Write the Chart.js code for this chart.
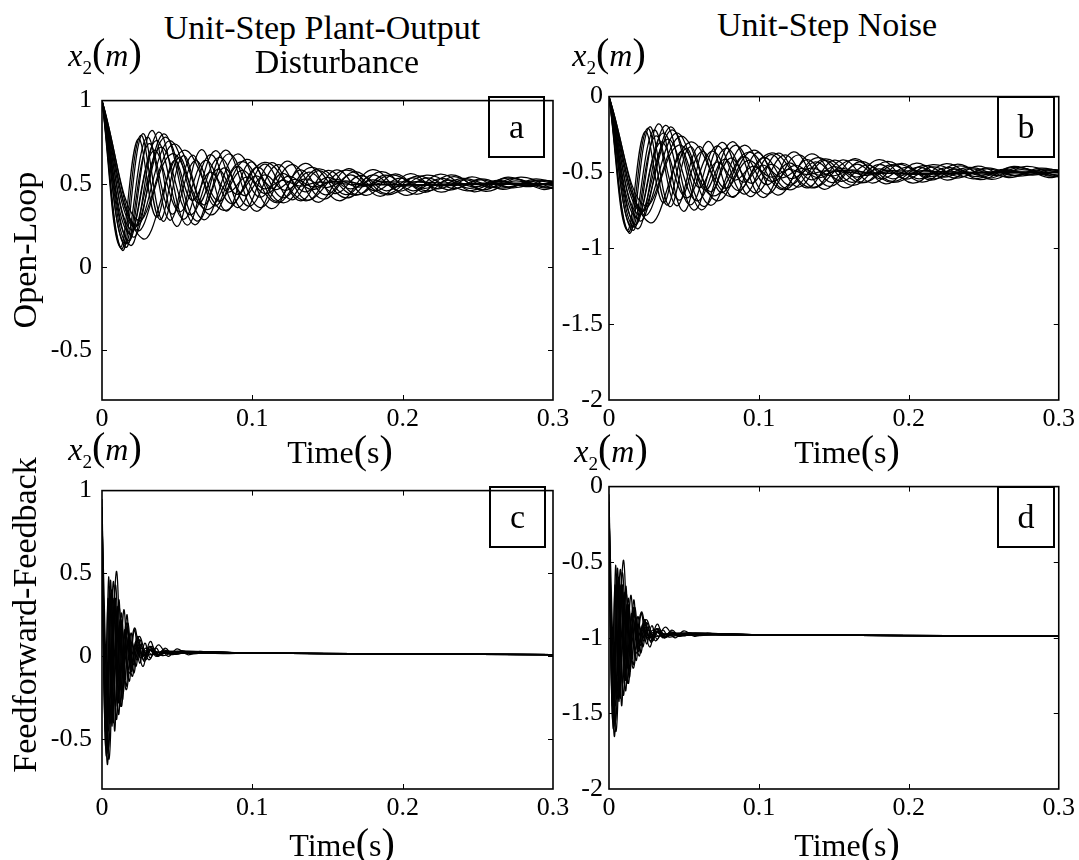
<!DOCTYPE html>
<html><head><meta charset="utf-8">
<script src="https://cdn.jsdelivr.net/npm/chart.js@4.4.1/dist/chart.umd.min.js"></script>
<style>
html,body{margin:0;padding:0;background:#fff;}
#wrap{position:relative;width:1079px;height:860px;overflow:hidden;background:#fff;font-family:'Liberation Serif','Times New Roman',serif;color:#000;}
canvas{position:absolute;}
.t{position:absolute;white-space:nowrap;transform:translate(-50%,-50%);line-height:1;}
.r{position:absolute;white-space:nowrap;transform:translate(-50%,-50%) rotate(-90deg);line-height:1;}
.box{position:absolute;border:2px solid #000;box-sizing:border-box;display:flex;align-items:center;justify-content:center;font-size:34px;line-height:1;}
.p{font-size:1.25em;}
</style></head>
<body><div id="wrap">
<canvas id="ca" width="575" height="375" style="left:0;top:75px"></canvas>
<canvas id="cb" width="524" height="375" style="left:555px;top:75px"></canvas>
<canvas id="cc" width="575" height="375" style="left:0;top:465px"></canvas>
<canvas id="cd" width="524" height="375" style="left:555px;top:465px"></canvas>

<div class="t" style="left:322px;top:28px;font-size:34px">Unit-Step Plant-Output</div>
<div class="t" style="left:337px;top:62px;font-size:34px">Disturbance</div>
<div class="t" style="left:827px;top:25px;font-size:34px">Unit-Step Noise</div>

<div class="t" style="left:105px;top:55px;font-size:32px"><i>x</i><sub style="font-size:0.6em">2</sub><span class="p">(</span><i>m</i><span class="p">)</span></div>
<div class="t" style="left:609px;top:55px;font-size:32px"><i>x</i><sub style="font-size:0.6em">2</sub><span class="p">(</span><i>m</i><span class="p">)</span></div>
<div class="t" style="left:105px;top:449px;font-size:32px"><i>x</i><sub style="font-size:0.6em">2</sub><span class="p">(</span><i>m</i><span class="p">)</span></div>
<div class="t" style="left:611px;top:451px;font-size:32px"><i>x</i><sub style="font-size:0.6em">2</sub><span class="p">(</span><i>m</i><span class="p">)</span></div>

<div class="t" style="left:340px;top:450px;font-size:32px">Time<span class="p">(</span>s<span class="p">)</span></div>
<div class="t" style="left:847px;top:450px;font-size:32px">Time<span class="p">(</span>s<span class="p">)</span></div>
<div class="t" style="left:342px;top:843px;font-size:32px">Time<span class="p">(</span>s<span class="p">)</span></div>
<div class="t" style="left:847px;top:843px;font-size:32px">Time<span class="p">(</span>s<span class="p">)</span></div>

<div class="r" style="left:25px;top:250px;font-size:34px">Open-Loop</div>
<div class="r" style="left:25px;top:615px;font-size:34px">Feedforward-Feedback</div>

<div class="box" style="left:488px;top:96px;width:57px;height:62px">a</div>
<div class="box" style="left:997px;top:96px;width:58px;height:62px">b</div>
<div class="box" style="left:489px;top:486px;width:57px;height:62px">c</div>
<div class="box" style="left:997px;top:486px;width:58px;height:62px">d</div>
</div>
<script>
// ---- tick values / labels ----
const xTickValues = [0, 0.1, 0.2, 0.3];
const xTickLabels = ['0', '0.1', '0.2', '0.3'];
const yTicksPos = [-0.5, 0, 0.5, 1];
const yLabelsPos = ['-0.5', '0', '0.5', '1'];
const yTicksNeg = [-2, -1.5, -1, -0.5, 0];
const yLabelsNeg = ['-2', '-1.5', '-1', '-0.5', '0'];

// ---- (a) Open-loop, unit-step plant-output disturbance: [time, x2] ----
const olDist1 = [[0,1],[0.012,0.12],[0.024,0.77],[0.036,0.30],[0.048,0.64],[0.06,0.40],[0.072,0.57],[0.084,0.45],[0.096,0.54],[0.108,0.47],[0.12,0.52],[0.132,0.486],[0.144,0.51],[0.17,0.495],[0.3,0.5]];
const olDist2 = [[0,1],[0.0135,0.10],[0.027,0.80],[0.0405,0.275],[0.054,0.669],[0.0675,0.373],[0.081,0.595],[0.0945,0.429],[0.108,0.553],[0.1215,0.46],[0.135,0.53],[0.1485,0.477],[0.162,0.517],[0.1755,0.487],[0.189,0.51],[0.25,0.5],[0.3,0.5]];
const olDist3 = [[0,1],[0.015,0.14],[0.03,0.78],[0.045,0.281],[0.06,0.671],[0.075,0.367],[0.09,0.604],[0.105,0.419],[0.12,0.563],[0.135,0.451],[0.15,0.538],[0.165,0.47],[0.18,0.523],[0.195,0.482],[0.21,0.514],[0.225,0.489],[0.26,0.505],[0.3,0.5]];
const olDist4 = [[0,1],[0.0165,0.14],[0.033,0.82],[0.0495,0.244],[0.066,0.705],[0.0825,0.336],[0.099,0.631],[0.1155,0.395],[0.132,0.584],[0.1485,0.433],[0.165,0.554],[0.1815,0.457],[0.198,0.534],[0.2145,0.473],[0.231,0.522],[0.2475,0.482],[0.264,0.514],[0.2805,0.489],[0.3,0.5]];
const olDist5 = [[0,1],[0.018,0.20],[0.036,0.76],[0.054,0.287],[0.072,0.675],[0.09,0.357],[0.108,0.618],[0.126,0.404],[0.144,0.579],[0.162,0.435],[0.18,0.553],[0.198,0.456],[0.216,0.536],[0.234,0.471],[0.252,0.524],[0.27,0.48],[0.288,0.516],[0.3,0.505]];
const olDist6 = [[0,1],[0.0195,0.22],[0.039,0.72],[0.0585,0.313],[0.078,0.659],[0.0975,0.365],[0.117,0.615],[0.1365,0.402],[0.156,0.583],[0.1755,0.43],[0.195,0.56],[0.2145,0.449],[0.234,0.543],[0.2535,0.463],[0.273,0.531],[0.2925,0.477],[0.3,0.48]];
const olDist7 = [[0,1],[0.021,0.24],[0.042,0.78],[0.063,0.276],[0.084,0.679],[0.105,0.357],[0.126,0.615],[0.147,0.408],[0.168,0.573],[0.189,0.441],[0.21,0.547],[0.231,0.462],[0.252,0.53],[0.273,0.476],[0.294,0.519],[0.3,0.515]];
const olDist8 = [[0,1],[0.0225,0.25],[0.045,0.76],[0.0675,0.284],[0.09,0.679],[0.1125,0.351],[0.135,0.623],[0.1575,0.398],[0.18,0.585],[0.2025,0.43],[0.225,0.558],[0.2475,0.452],[0.27,0.54],[0.2925,0.467],[0.3,0.475]];
const olDist9 = [[0,1],[0.024,0.28],[0.048,0.74],[0.072,0.313],[0.096,0.646],[0.12,0.386],[0.144,0.589],[0.168,0.431],[0.192,0.554],[0.216,0.458],[0.24,0.533],[0.264,0.474],[0.288,0.52],[0.3,0.515]];
const olDist10 = [[0,1],[0.027,0.17],[0.054,0.70],[0.081,0.34],[0.108,0.628],[0.135,0.398],[0.162,0.582],[0.189,0.434],[0.216,0.552],[0.243,0.458],[0.27,0.534],[0.297,0.473],[0.3,0.474]];
const olDist11 = [[0,1],[0.0155,0.12],[0.031,0.74],[0.0465,0.318],[0.062,0.639],[0.0775,0.395],[0.093,0.58],[0.1085,0.439],[0.124,0.546],[0.1395,0.465],[0.155,0.527],[0.1705,0.48],[0.186,0.516],[0.2015,0.488],[0.25,0.502],[0.3,0.5]];
const olDist12 = [[0,1],[0.0205,0.18],[0.041,0.80],[0.0615,0.254],[0.082,0.702],[0.1025,0.335],[0.123,0.636],[0.1435,0.389],[0.164,0.591],[0.1845,0.425],[0.205,0.561],[0.2255,0.45],[0.246,0.541],[0.2665,0.466],[0.287,0.528],[0.3,0.51]];
const olDist13 = [[0,1],[0.0128,0.11],[0.0256,0.79],[0.0384,0.285],[0.0512,0.659],[0.064,0.383],[0.0768,0.587],[0.0896,0.436],[0.1024,0.548],[0.1152,0.465],[0.128,0.526],[0.1408,0.481],[0.1536,0.514],[0.18,0.495],[0.3,0.5]];
const olDist14 = [[0,1],[0.0172,0.16],[0.0344,0.70],[0.0516,0.332],[0.0688,0.641],[0.086,0.381],[0.1032,0.60],[0.1204,0.416],[0.1376,0.57],[0.1548,0.441],[0.172,0.55],[0.1892,0.458],[0.2064,0.535],[0.2236,0.47],[0.2408,0.525],[0.258,0.479],[0.2752,0.518],[0.2924,0.485],[0.3,0.49]];
const olDist15 = [[0,1],[0.0188,0.13],[0.0376,0.81],[0.0564,0.252],[0.0752,0.698],[0.094,0.341],[0.1128,0.627],[0.1316,0.398],[0.1504,0.581],[0.1692,0.435],[0.188,0.552],[0.2068,0.458],[0.2256,0.533],[0.2444,0.473],[0.2632,0.521],[0.282,0.483],[0.3,0.51]];
const olDist16 = [[0,1],[0.0232,0.22],[0.0464,0.68],[0.0696,0.345],[0.0928,0.633],[0.116,0.386],[0.1392,0.598],[0.1624,0.415],[0.1856,0.573],[0.2088,0.437],[0.232,0.554],[0.2552,0.454],[0.2784,0.54],[0.3,0.47]];

// ---- (b) Open-loop, unit-step noise ----
const olNoise1 = [[0,0],[0.012,-0.88],[0.024,-0.23],[0.036,-0.70],[0.048,-0.36],[0.06,-0.60],[0.072,-0.43],[0.084,-0.55],[0.096,-0.46],[0.108,-0.53],[0.12,-0.48],[0.132,-0.514],[0.144,-0.49],[0.17,-0.505],[0.3,-0.5]];
const olNoise2 = [[0,0],[0.0135,-0.90],[0.027,-0.20],[0.0405,-0.725],[0.054,-0.331],[0.0675,-0.627],[0.081,-0.405],[0.0945,-0.571],[0.108,-0.447],[0.1215,-0.54],[0.135,-0.47],[0.1485,-0.523],[0.162,-0.483],[0.1755,-0.513],[0.189,-0.49],[0.25,-0.5],[0.3,-0.5]];
const olNoise3 = [[0,0],[0.015,-0.86],[0.03,-0.22],[0.045,-0.719],[0.06,-0.329],[0.075,-0.633],[0.09,-0.396],[0.105,-0.581],[0.12,-0.437],[0.135,-0.549],[0.15,-0.462],[0.165,-0.53],[0.18,-0.477],[0.195,-0.518],[0.21,-0.486],[0.225,-0.511],[0.26,-0.495],[0.3,-0.5]];
const olNoise4 = [[0,0],[0.0165,-0.86],[0.033,-0.18],[0.0495,-0.756],[0.066,-0.295],[0.0825,-0.664],[0.099,-0.369],[0.1155,-0.605],[0.132,-0.416],[0.1485,-0.567],[0.165,-0.446],[0.1815,-0.543],[0.198,-0.466],[0.2145,-0.527],[0.231,-0.478],[0.2475,-0.518],[0.264,-0.486],[0.2805,-0.511],[0.3,-0.5]];
const olNoise5 = [[0,0],[0.018,-0.80],[0.036,-0.24],[0.054,-0.713],[0.072,-0.325],[0.09,-0.643],[0.108,-0.382],[0.126,-0.596],[0.144,-0.421],[0.162,-0.565],[0.18,-0.447],[0.198,-0.544],[0.216,-0.464],[0.234,-0.529],[0.252,-0.476],[0.27,-0.52],[0.288,-0.484],[0.3,-0.495]];
const olNoise6 = [[0,0],[0.0195,-0.78],[0.039,-0.28],[0.0585,-0.687],[0.078,-0.341],[0.0975,-0.635],[0.117,-0.385],[0.1365,-0.598],[0.156,-0.417],[0.1755,-0.57],[0.195,-0.44],[0.2145,-0.551],[0.234,-0.457],[0.2535,-0.537],[0.273,-0.469],[0.2925,-0.523],[0.3,-0.52]];
const olNoise7 = [[0,0],[0.021,-0.76],[0.042,-0.22],[0.063,-0.724],[0.084,-0.321],[0.105,-0.643],[0.126,-0.385],[0.147,-0.592],[0.168,-0.427],[0.189,-0.559],[0.21,-0.453],[0.231,-0.538],[0.252,-0.47],[0.273,-0.524],[0.294,-0.481],[0.3,-0.485]];
const olNoise8 = [[0,0],[0.0225,-0.75],[0.045,-0.24],[0.0675,-0.716],[0.09,-0.321],[0.1125,-0.649],[0.135,-0.377],[0.1575,-0.602],[0.18,-0.415],[0.2025,-0.57],[0.225,-0.442],[0.2475,-0.548],[0.27,-0.46],[0.2925,-0.533],[0.3,-0.525]];
const olNoise9 = [[0,0],[0.024,-0.72],[0.048,-0.26],[0.072,-0.687],[0.096,-0.354],[0.12,-0.614],[0.144,-0.411],[0.168,-0.569],[0.192,-0.446],[0.216,-0.542],[0.24,-0.467],[0.264,-0.526],[0.288,-0.48],[0.3,-0.485]];
const olNoise10 = [[0,0],[0.027,-0.83],[0.054,-0.30],[0.081,-0.66],[0.108,-0.372],[0.135,-0.602],[0.162,-0.418],[0.189,-0.566],[0.216,-0.448],[0.243,-0.542],[0.27,-0.466],[0.297,-0.527],[0.3,-0.526]];
const olNoise11 = [[0,0],[0.0155,-0.88],[0.031,-0.26],[0.0465,-0.682],[0.062,-0.361],[0.0775,-0.605],[0.093,-0.42],[0.1085,-0.561],[0.124,-0.454],[0.1395,-0.535],[0.155,-0.473],[0.1705,-0.52],[0.186,-0.484],[0.2015,-0.512],[0.25,-0.498],[0.3,-0.5]];
const olNoise12 = [[0,0],[0.0205,-0.82],[0.041,-0.20],[0.0615,-0.746],[0.082,-0.298],[0.1025,-0.665],[0.123,-0.364],[0.1435,-0.611],[0.164,-0.409],[0.1845,-0.575],[0.205,-0.439],[0.2255,-0.55],[0.246,-0.459],[0.2665,-0.534],[0.287,-0.472],[0.3,-0.49]];
const olNoise13 = [[0,0],[0.0128,-0.89],[0.0256,-0.21],[0.0384,-0.715],[0.0512,-0.341],[0.064,-0.617],[0.0768,-0.413],[0.0896,-0.564],[0.1024,-0.452],[0.1152,-0.535],[0.128,-0.474],[0.1408,-0.519],[0.1536,-0.486],[0.18,-0.505],[0.3,-0.5]];
const olNoise14 = [[0,0],[0.0172,-0.84],[0.0344,-0.30],[0.0516,-0.668],[0.0688,-0.359],[0.086,-0.619],[0.1032,-0.40],[0.1204,-0.584],[0.1376,-0.43],[0.1548,-0.559],[0.172,-0.45],[0.1892,-0.542],[0.2064,-0.465],[0.2236,-0.53],[0.2408,-0.475],[0.258,-0.521],[0.2752,-0.482],[0.2924,-0.515],[0.3,-0.51]];
const olNoise15 = [[0,0],[0.0188,-0.87],[0.0376,-0.19],[0.0564,-0.748],[0.0752,-0.302],[0.094,-0.659],[0.1128,-0.373],[0.1316,-0.602],[0.1504,-0.419],[0.1692,-0.565],[0.188,-0.448],[0.2068,-0.542],[0.2256,-0.467],[0.2444,-0.527],[0.2632,-0.479],[0.282,-0.517],[0.3,-0.49]];
const olNoise16 = [[0,0],[0.0232,-0.78],[0.0464,-0.32],[0.0696,-0.655],[0.0928,-0.367],[0.116,-0.614],[0.1392,-0.402],[0.1624,-0.585],[0.1856,-0.427],[0.2088,-0.563],[0.232,-0.446],[0.2552,-0.546],[0.2784,-0.46],[0.3,-0.53]];

// ---- (c) Feedforward-feedback, plant-output disturbance ----
const ffDist1 = [[0,0.95],[0.003,-0.5],[0.006,0.38],[0.009,-0.3],[0.012,0.22],[0.015,-0.14],[0.018,0.13],[0.021,-0.05],[0.024,0.07],[0.027,0.0],[0.031,0.04],[0.036,0.01],[0.045,0.025],[0.1,0.02],[0.2,0.015],[0.3,0.01]];
const ffDist2 = [[0,0.85],[0.0035,-0.65],[0.0075,0.45],[0.011,-0.35],[0.0145,0.28],[0.018,-0.15],[0.0215,0.16],[0.025,-0.04],[0.0285,0.08],[0.032,-0.01],[0.036,0.05],[0.04,0.005],[0.05,0.03],[0.1,0.02],[0.3,0.01]];
const ffDist3 = [[0,0.7],[0.0045,-0.62],[0.0095,0.51],[0.0135,-0.26],[0.0165,0.25],[0.0195,-0.09],[0.0235,0.12],[0.0275,-0.02],[0.0315,0.06],[0.036,0.0],[0.041,0.04],[0.046,0.01],[0.052,0.03],[0.1,0.02],[0.3,0.01]];
const ffDist4 = [[0,0.6],[0.0025,-0.55],[0.005,0.42],[0.0075,-0.4],[0.01,0.3],[0.0125,-0.2],[0.015,0.16],[0.0175,-0.08],[0.02,0.08],[0.023,-0.02],[0.026,0.05],[0.03,0.01],[0.04,0.025],[0.1,0.02],[0.3,0.01]];
const ffDist5 = [[0,0.45],[0.004,-0.45],[0.008,0.35],[0.012,-0.3],[0.016,0.2],[0.02,-0.12],[0.024,0.1],[0.028,-0.03],[0.032,0.06],[0.037,0.0],[0.042,0.035],[0.048,0.015],[0.06,0.025],[0.1,0.02],[0.3,0.01]];
const ffDist6 = [[0,0.8],[0.005,-0.4],[0.011,0.3],[0.016,-0.2],[0.0215,0.17],[0.027,-0.06],[0.032,0.09],[0.037,0.0],[0.042,0.05],[0.047,0.01],[0.053,0.035],[0.06,0.015],[0.07,0.025],[0.1,0.02],[0.3,0.01]];
const ffDist7 = [[0,0.9],[0.002,-0.3],[0.004,0.35],[0.006,-0.25],[0.008,0.25],[0.01,-0.15],[0.012,0.18],[0.014,-0.08],[0.016,0.12],[0.019,-0.02],[0.022,0.07],[0.026,0.0],[0.03,0.04],[0.04,0.02],[0.1,0.02],[0.3,0.01]];
const ffDist8 = [[0,0.3],[0.006,-0.35],[0.012,0.2],[0.018,-0.1],[0.0245,0.12],[0.031,-0.02],[0.0375,0.07],[0.044,0.0],[0.05,0.045],[0.057,0.01],[0.065,0.03],[0.075,0.018],[0.1,0.02],[0.3,0.01]];
const ffDist9 = [[0,0.8],[0.0022,-0.45],[0.0044,0.48],[0.0066,-0.42],[0.0088,0.35],[0.011,-0.28],[0.0132,0.22],[0.0154,-0.14],[0.0176,0.12],[0.02,-0.04],[0.023,0.06],[0.027,0.0],[0.032,0.035],[0.04,0.02],[0.1,0.02],[0.3,0.01]];
const ffDist10 = [[0,0.65],[0.0028,-0.6],[0.0056,0.46],[0.0084,-0.45],[0.0112,0.34],[0.014,-0.22],[0.0168,0.18],[0.0196,-0.07],[0.0224,0.09],[0.0255,-0.01],[0.029,0.05],[0.033,0.01],[0.04,0.03],[0.1,0.02],[0.3,0.01]];
const ffDist11 = [[0,0.9],[0.0032,-0.58],[0.0064,0.4],[0.0096,-0.38],[0.0128,0.26],[0.016,-0.18],[0.0192,0.14],[0.0224,-0.06],[0.0256,0.07],[0.029,0.0],[0.033,0.045],[0.038,0.01],[0.045,0.03],[0.1,0.02],[0.3,0.01]];
const ffDist12 = [[0,0.55],[0.0042,-0.55],[0.0088,0.43],[0.0128,-0.3],[0.017,0.2],[0.021,-0.1],[0.025,0.1],[0.029,-0.02],[0.033,0.06],[0.038,0.005],[0.043,0.035],[0.049,0.012],[0.056,0.028],[0.1,0.02],[0.3,0.01]];

// ---- (d) Feedforward-feedback, unit-step noise ----
const ffNoise1 = [[0,-0.05],[0.003,-1.5],[0.006,-0.62],[0.009,-1.3],[0.012,-0.78],[0.015,-1.14],[0.018,-0.87],[0.021,-1.05],[0.024,-0.93],[0.027,-1.0],[0.031,-0.96],[0.036,-0.99],[0.045,-0.975],[0.1,-0.98],[0.2,-0.985],[0.3,-0.99]];
const ffNoise2 = [[0,-0.15],[0.0035,-1.65],[0.0075,-0.55],[0.011,-1.35],[0.0145,-0.72],[0.018,-1.15],[0.0215,-0.84],[0.025,-1.04],[0.0285,-0.92],[0.032,-1.01],[0.036,-0.95],[0.04,-0.995],[0.05,-0.97],[0.1,-0.98],[0.3,-0.99]];
const ffNoise3 = [[0,-0.3],[0.0045,-1.62],[0.0095,-0.49],[0.0135,-1.26],[0.0165,-0.75],[0.0195,-1.09],[0.0235,-0.88],[0.0275,-1.02],[0.0315,-0.94],[0.036,-1.0],[0.041,-0.96],[0.046,-0.99],[0.052,-0.97],[0.1,-0.98],[0.3,-0.99]];
const ffNoise4 = [[0,-0.4],[0.0025,-1.55],[0.005,-0.58],[0.0075,-1.4],[0.01,-0.7],[0.0125,-1.2],[0.015,-0.84],[0.0175,-1.08],[0.02,-0.92],[0.023,-1.02],[0.026,-0.95],[0.03,-0.99],[0.04,-0.975],[0.1,-0.98],[0.3,-0.99]];
const ffNoise5 = [[0,-0.55],[0.004,-1.45],[0.008,-0.65],[0.012,-1.3],[0.016,-0.8],[0.02,-1.12],[0.024,-0.9],[0.028,-1.03],[0.032,-0.94],[0.037,-1.0],[0.042,-0.965],[0.048,-0.985],[0.06,-0.975],[0.1,-0.98],[0.3,-0.99]];
const ffNoise6 = [[0,-0.2],[0.005,-1.4],[0.011,-0.7],[0.016,-1.2],[0.0215,-0.83],[0.027,-1.06],[0.032,-0.91],[0.037,-1.0],[0.042,-0.95],[0.047,-0.99],[0.053,-0.965],[0.06,-0.985],[0.07,-0.975],[0.1,-0.98],[0.3,-0.99]];
const ffNoise7 = [[0,-0.1],[0.002,-1.3],[0.004,-0.65],[0.006,-1.25],[0.008,-0.75],[0.01,-1.15],[0.012,-0.82],[0.014,-1.08],[0.016,-0.88],[0.019,-1.02],[0.022,-0.93],[0.026,-1.0],[0.03,-0.96],[0.04,-0.98],[0.1,-0.98],[0.3,-0.99]];
const ffNoise8 = [[0,-0.7],[0.006,-1.35],[0.012,-0.8],[0.018,-1.1],[0.0245,-0.88],[0.031,-1.02],[0.0375,-0.93],[0.044,-1.0],[0.05,-0.955],[0.057,-0.99],[0.065,-0.97],[0.075,-0.982],[0.1,-0.98],[0.3,-0.99]];
const ffNoise9 = [[0,-0.2],[0.0022,-1.45],[0.0044,-0.52],[0.0066,-1.42],[0.0088,-0.65],[0.011,-1.28],[0.0132,-0.78],[0.0154,-1.14],[0.0176,-0.88],[0.02,-1.04],[0.023,-0.94],[0.027,-1.0],[0.032,-0.965],[0.04,-0.98],[0.1,-0.98],[0.3,-0.99]];
const ffNoise10 = [[0,-0.35],[0.0028,-1.6],[0.0056,-0.54],[0.0084,-1.45],[0.0112,-0.66],[0.014,-1.22],[0.0168,-0.82],[0.0196,-1.07],[0.0224,-0.91],[0.0255,-1.01],[0.029,-0.95],[0.033,-0.99],[0.04,-0.97],[0.1,-0.98],[0.3,-0.99]];
const ffNoise11 = [[0,-0.1],[0.0032,-1.58],[0.0064,-0.6],[0.0096,-1.38],[0.0128,-0.74],[0.016,-1.18],[0.0192,-0.86],[0.0224,-1.06],[0.0256,-0.93],[0.029,-1.0],[0.033,-0.955],[0.038,-0.99],[0.045,-0.97],[0.1,-0.98],[0.3,-0.99]];
const ffNoise12 = [[0,-0.45],[0.0042,-1.55],[0.0088,-0.57],[0.0128,-1.3],[0.017,-0.8],[0.021,-1.1],[0.025,-0.9],[0.029,-1.02],[0.033,-0.94],[0.038,-0.995],[0.043,-0.965],[0.049,-0.988],[0.056,-0.972],[0.1,-0.98],[0.3,-0.99]];

const panelA = [olDist1,olDist2,olDist3,olDist4,olDist5,olDist6,olDist7,olDist8,olDist9,olDist10,olDist11,olDist12,olDist13,olDist14,olDist15,olDist16];
const panelB = [olNoise1,olNoise2,olNoise3,olNoise4,olNoise5,olNoise6,olNoise7,olNoise8,olNoise9,olNoise10,olNoise11,olNoise12,olNoise13,olNoise14,olNoise15,olNoise16];
const panelC = [ffDist1,ffDist2,ffDist3,ffDist4,ffDist5,ffDist6,ffDist7,ffDist8,ffDist9,ffDist10,ffDist11,ffDist12];
const panelD = [ffNoise1,ffNoise2,ffNoise3,ffNoise4,ffNoise5,ffNoise6,ffNoise7,ffNoise8,ffNoise9,ffNoise10,ffNoise11,ffNoise12];

const FONT = 'Liberation Serif, Times New Roman, serif';
Chart.defaults.font.family = FONT;

const framePlugin = {
  id: 'matlabFrame',
  afterDatasetsDraw(chart) {
    const {ctx, chartArea: a, scales: {x, y}} = chart;
    ctx.save();
    ctx.strokeStyle = '#000';
    ctx.lineWidth = 1;
    ctx.beginPath();
    x.ticks.forEach(t => {
      const px = Math.round(x.getPixelForValue(t.value)) + 0.5;
      if (px > a.left + 2 && px < a.right - 2) {
        ctx.moveTo(px, a.bottom); ctx.lineTo(px, a.bottom - 5);
        ctx.moveTo(px, a.top); ctx.lineTo(px, a.top + 5);
      }
    });
    y.ticks.forEach(t => {
      const py = Math.round(y.getPixelForValue(t.value)) + 0.5;
      if (py > a.top + 2 && py < a.bottom - 2) {
        ctx.moveTo(a.left, py); ctx.lineTo(a.left + 5, py);
        ctx.moveTo(a.right, py); ctx.lineTo(a.right - 5, py);
      }
    });
    ctx.stroke();
    ctx.lineWidth = 1.6;
    ctx.strokeRect(a.left, a.top, a.right - a.left, a.bottom - a.top);
    ctx.restore();
  }
};

function makePanel(id, curves, yMin, yMax, yTicks, yLabels, geo) {
  return new Chart(document.getElementById(id), {
    type: 'line',
    data: {
      datasets: curves.map(c => ({
        data: c.map(p => ({x: p[0], y: p[1]})),
        borderColor: '#000', borderWidth: 1.25, pointRadius: 0, tension: 0.4, fill: false
      }))
    },
    options: {
      responsive: false, animation: false, events: [],
      layout: {padding: {top: 16, right: geo.right, left: 0, bottom: 0}},
      plugins: {legend: {display: false}, tooltip: {enabled: false}},
      scales: {
        x: {
          type: 'linear', min: 0, max: 0.3,
          afterBuildTicks: s => { s.ticks = xTickValues.map(v => ({value: v})); },
          afterFit: s => { s.height = geo.xh; },
          grid: {display: false, drawTicks: false}, border: {display: false},
          ticks: {padding: 4, color: '#000', maxRotation: 0, autoSkip: false,
                  font: {family: FONT, size: 26},
                  callback: (v, i) => xTickLabels[i]}
        },
        y: {
          type: 'linear', min: yMin, max: yMax,
          afterBuildTicks: s => { s.ticks = yTicks.map(v => ({value: v})); },
          afterFit: s => { s.width = geo.yw; },
          grid: {display: false, drawTicks: false}, border: {display: false},
          ticks: {padding: geo.ypad, color: '#000', autoSkip: false,
                  font: {family: FONT, size: 26},
                  callback: (v, i) => yLabels[i]}
        }
      }
    },
    plugins: [framePlugin]
  });
}

makePanel('ca', panelA, -0.8, 1, yTicksPos, yLabelsPos, {right: 22, xh: 50, yw: 102, ypad: 10});
makePanel('cb', panelB, -2, 0, yTicksNeg, yLabelsNeg, {right: 20, xh: 50, yw: 54, ypad: 6});
makePanel('cc', panelC, -0.8, 1, yTicksPos, yLabelsPos, {right: 22, xh: 51, yw: 102, ypad: 10});
makePanel('cd', panelD, -2, 0, yTicksNeg, yLabelsNeg, {right: 20, xh: 51, yw: 54, ypad: 6});
</script>
</body></html>
